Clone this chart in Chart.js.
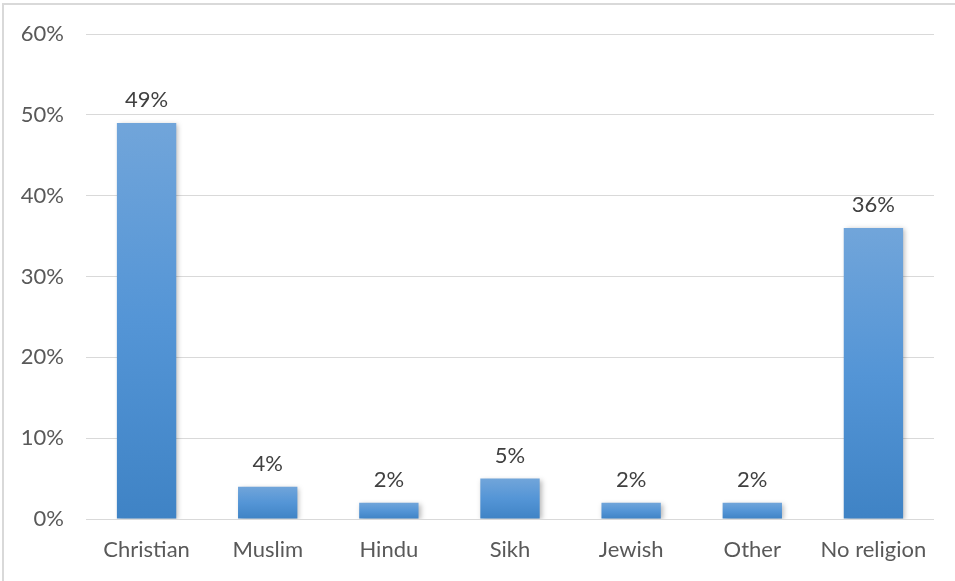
<!DOCTYPE html>
<html>
<head>
<meta charset="utf-8">
<title>Religion</title>
<script src="https://cdn.jsdelivr.net/npm/chart.js@4.4.1/dist/chart.umd.min.js"></script>
<style>
    html, body { margin: 0; padding: 0; background: #ffffff; overflow: hidden; }
    #wrap {
        position: absolute;
        left: 2px; top: 3px;
        width: 953px; height: 578px;
        box-sizing: border-box;
        border-top: 2px solid #d9d9d9;
        border-left: 2px solid #d9d9d9;
    }
</style>
</head>
<body>
<div id="wrap"><canvas id="religionChart"></canvas></div>
<script>
// religion breakdown (percent)
const categories = ['Christian', 'Muslim', 'Hindu', 'Sikh', 'Jewish', 'Other', 'No religion'];
const shares = [49, 4, 2, 5, 2, 2, 36];
const yTicks = [0, 10, 20, 30, 40, 50, 60];

const FONT = 'Lato, "Open Sans", sans-serif';

// vertical gradient per bar, lighter at the top
function barGradient(context) {
    const chart = context.chart;
    const { ctx, chartArea, scales } = chart;
    if (!chartArea) return '#5b9bd5';
    const value = context.raw;
    const top = scales.y.getPixelForValue(value);
    const bottom = scales.y.getPixelForValue(0);
    const g = ctx.createLinearGradient(0, top, 0, bottom);
    g.addColorStop(0, '#71a5da');
    g.addColorStop(0.5, '#5495d6');
    g.addColorStop(1, '#3f83c5');
    return g;
}

// soft shadow behind the bars
const barShadow = {
    id: 'barShadow',
    beforeDatasetsDraw(chart) {
        const ctx = chart.ctx;
        ctx.save();
        ctx.shadowColor = 'rgba(0, 0, 0, 0.28)';
        ctx.shadowBlur = 5;
        ctx.shadowOffsetX = 2;
        ctx.shadowOffsetY = 1;
    },
    afterDatasetsDraw(chart) {
        chart.ctx.restore();
    }
};

// value labels above each bar
const valueLabels = {
    id: 'valueLabels',
    afterDatasetsDraw(chart) {
        const ctx = chart.ctx;
        const meta = chart.getDatasetMeta(0);
        ctx.save();
        ctx.font = '22px ' + FONT;
        ctx.fillStyle = '#404040';
        ctx.textAlign = 'center';
        ctx.textBaseline = 'bottom';
        meta.data.forEach((bar, i) => {
            ctx.fillText(shares[i] + '%', bar.x, bar.y - 12);
        });
        ctx.restore();
    }
};

// keep the plot area where we want it, ignoring label overhang
function noOverhang(axis) {
    axis.paddingLeft = 0;
    axis.paddingRight = 0;
    axis.paddingTop = 0;
    axis.paddingBottom = 0;
}

new Chart(document.getElementById('religionChart'), {
    type: 'bar',
    data: {
        labels: categories,
        datasets: [{
            label: 'Share',
            data: shares,
            backgroundColor: barGradient,
            borderWidth: 0,
            categoryPercentage: 1,
            barPercentage: 0.49
        }]
    },
    options: {
        responsive: true,
        maintainAspectRatio: false,
        animation: false,
        layout: {
            padding: { left: 0, right: 21, top: 29, bottom: 0 }
        },
        plugins: {
            legend: { display: false },
            tooltip: { enabled: false }
        },
        scales: {
            x: {
                grid: { display: false, drawTicks: false },
                border: { display: false },
                afterFit: axis => {
                    noOverhang(axis);
                    axis.height = 62;
                },
                ticks: {
                    color: '#595959',
                    font: { family: FONT, size: 22 },
                    padding: 18
                }
            },
            y: {
                min: 0,
                max: 60,
                afterBuildTicks: axis => {
                    axis.ticks = yTicks.map(v => ({ value: v }));
                },
                afterFit: axis => {
                    noOverhang(axis);
                    axis.width = 82;
                },
                grid: { color: '#d9d9d9', lineWidth: 1, drawTicks: false },
                border: { display: false },
                ticks: {
                    color: '#595959',
                    font: { family: FONT, size: 22 },
                    padding: 22,
                    callback: v => v + '%'
                }
            }
        }
    },
    plugins: [barShadow, valueLabels]
});
</script>
</body>
</html>
